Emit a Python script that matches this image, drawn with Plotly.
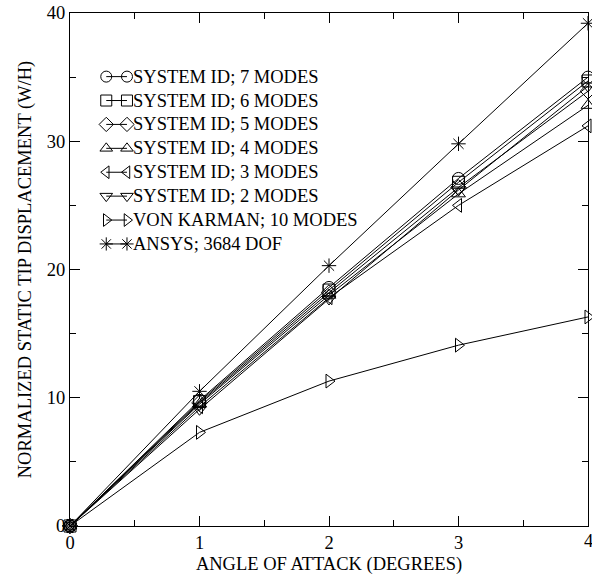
import plotly.graph_objects as go

angles = [0, 1, 2, 3, 4]
names = ["SYSTEM ID; 7 MODES", "SYSTEM ID; 6 MODES", "SYSTEM ID; 5 MODES",
         "SYSTEM ID; 4 MODES", "SYSTEM ID; 3 MODES", "SYSTEM ID; 2 MODES",
         "VON KARMAN; 10 MODES", "ANSYS; 3684 DOF"]
sysid7 = [0, 9.8, 18.6, 27.1, 35.0]
sysid6 = [0, 9.7, 18.4, 26.8, 34.7]
sysid5 = [0, 9.6, 18.2, 26.4, 33.9]
sysid4 = [0, 9.5, 18.0, 25.9, 32.8]
sysid3 = [0, 9.3, 17.8, 25.0, 31.2]
sysid2 = [0, 9.1, 17.7, 26.2, 34.3]
vonkarman = [0, 7.3, 11.3, 14.1, 16.3]
ansys = [0, 10.5, 20.3, 29.8, 39.2]
series = [sysid7, sysid6, sysid5, sysid4, sysid3, sysid2, vonkarman, ansys]
symbols = ["circle-open", "square-open", "diamond-open", "triangle-up-open",
           "triangle-left-open", "triangle-down-open", "triangle-right-open", "asterisk-open"]
x_ticks = [0, 1, 2, 3, 4]

font = "Liberation Serif"
fs = 18.5
fig = go.Figure()
for nm, ys, sym in zip(names, series, symbols):
    fig.add_trace(go.Scatter(x=angles, y=ys, mode="lines+markers", name=nm,
                             line=dict(color="black", width=1),
                             marker=dict(symbol=sym, size=12, color="black",
                                         line=dict(color="black", width=1)),
                             cliponaxis=False, showlegend=False))

# hand-drawn legend on an overlay axis (0..1 coordinates)
leg_y0 = 0.876
leg_dy = 0.0466
for i, (nm, sym) in enumerate(zip(names, symbols)):
    yy = leg_y0 - i * leg_dy
    fig.add_trace(go.Scatter(x=[0.070, 0.110], y=[yy, yy], mode="lines+markers",
                             xaxis="x2", yaxis="y2",
                             line=dict(color="black", width=1),
                             marker=dict(symbol=sym, size=11, color="black",
                                         line=dict(color="black", width=1)),
                             showlegend=False, hoverinfo="skip"))
    fig.add_annotation(x=0.117, y=yy, xref="x2", yref="y2", text=nm,
                       showarrow=False, xanchor="left", yanchor="middle",
                       font=dict(family=font, size=fs, color="black"))

# the last x tick label runs past the page edge, so it is placed as an annotation
fig.add_annotation(x=x_ticks[-1], y=0, xref="x", yref="paper", text=str(x_ticks[-1]),
                   showarrow=False, xanchor="center", yanchor="top", yshift=-3,
                   font=dict(family=font, size=fs, color="black"))

axis_common = dict(showgrid=False, zeroline=False, showline=True, linecolor="black",
                   linewidth=1.3, mirror="allticks", ticks="inside", ticklen=10,
                   tickcolor="black", tickwidth=1,
                   tickfont=dict(family=font, size=fs, color="black"))
fig.update_layout(
    width=592, height=580,
    margin=dict(l=70, r=4, t=13, b=54),
    paper_bgcolor="white", plot_bgcolor="white",
    xaxis=dict(range=[0, 4], tickvals=x_ticks[:-1] + [x_ticks[-1]],
               ticktext=[str(v) for v in x_ticks[:-1]] + [""],
               minor=dict(dtick=0.5, ticks="inside", ticklen=6, tickcolor="black"),
               title=dict(text="ANGLE OF ATTACK (DEGREES)", standoff=4,
                          font=dict(family=font, size=fs, color="black")),
               **axis_common),
    yaxis=dict(range=[0, 40], dtick=10, tick0=0,
               minor=dict(dtick=5, ticks="inside", ticklen=6, tickcolor="black"),
               title=dict(text="NORMALIZED STATIC TIP DISPLACEMENT (W/H)", standoff=10,
                          font=dict(family=font, size=fs, color="black")),
               **axis_common),
    xaxis2=dict(overlaying="x", range=[0, 1], visible=False, fixedrange=True),
    yaxis2=dict(overlaying="y", range=[0, 1], visible=False, fixedrange=True),
)
fig.write_html("out.html")
